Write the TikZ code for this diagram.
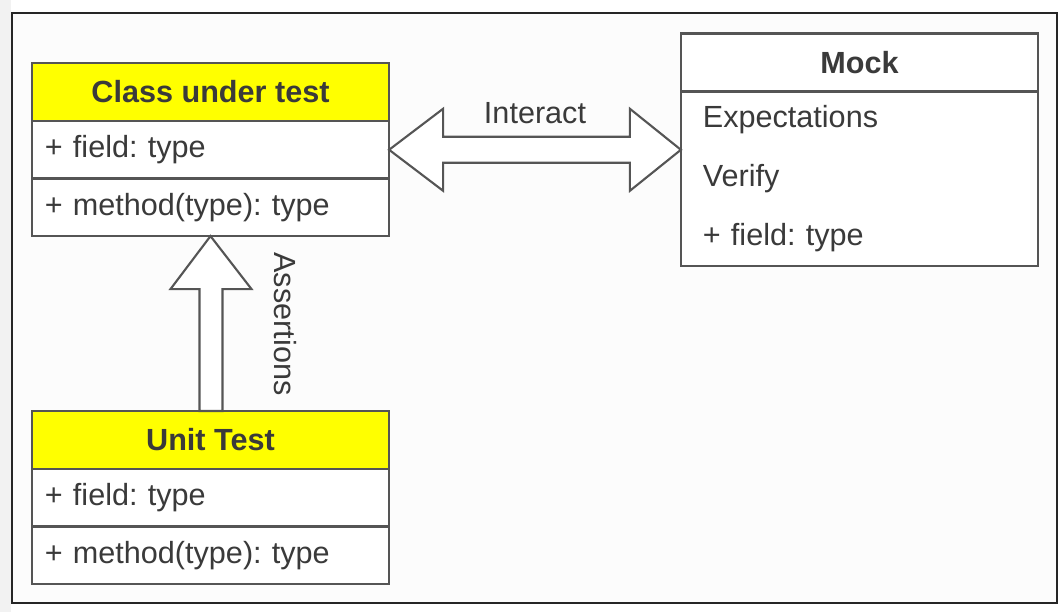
\documentclass[tikz,border=0pt]{standalone}
\usepackage{fontspec}
\setmainfont{Liberation Sans}
\usetikzlibrary{positioning,calc}
\definecolor{umlyellow}{HTML}{FFFF00}
\definecolor{linegray}{HTML}{555555}
\definecolor{textgray}{HTML}{3A3A3A}
\frenchspacing
\begin{document}
\begin{tikzpicture}%
	[
	x={(0.01cm, 0cm)},
	y={(0cm, -0.01cm)},
	frame/.style={draw=black!85, line width=0.5pt, fill=black!1},
	classhead/.style={draw=linegray, line width=0.6pt, fill=umlyellow, minimum width=3.57cm, minimum height=5.8mm, inner sep=0pt, outer sep=0pt, text=textgray, font=\fontsize{8.7}{10}\selectfont\bfseries},
	member/.style={draw=linegray, line width=0.6pt, fill=white, text width=3.31cm, inner xsep=1.3mm, inner ysep=0pt, outer sep=0pt, minimum height=5.75mm, align=left, text=textgray, font=\fontsize{8.7}{10}\selectfont},
	mockhead/.style={classhead, fill=white},
	mockbody/.style={member, text width=3.13cm, inner xsep=2.2mm, minimum height=17.4mm, font=\fontsize{8.7}{16.9}\selectfont},
	bigarrow/.style={draw=linegray, line width=0.6pt, fill=white, line join=miter},
	arrowtext/.style={text=textgray, inner sep=0pt, font=\fontsize{8.7}{10}\selectfont}]

\useasboundingbox (0,0) rectangle (1060,612);
\fill[black!5] (0,0) rectangle (11,612);
\draw[frame] (12,13) rectangle (1057,603);

\node[classhead] (cuthead) at (210.5,92) {Class under test};
\node[member, below=0pt of cuthead] (cutfield) {+ field: type};
\node[member, below=0pt of cutfield] (cutmethod) {+ method(type): type};

\node[classhead] (uthead) at (210.5,440) {Unit Test};
\node[member, below=0pt of uthead] (utfield) {+ field: type};
\node[member, below=0pt of utfield] (utmethod) {+ method(type): type};

\node[mockhead] (mockhead) at (859.5,62.5) {Mock};
\node[mockbody, below=0pt of mockhead] (mockbody) {Expectations\\Verify\\+ field: type};

\coordinate (lefttip) at (cutfield.east);
\coordinate (righttip) at (cutfield.east -| mockbody.west);
\coordinate (uptip) at (cutmethod.south);
\coordinate (upfoot) at (uthead.north);

\draw[bigarrow] (lefttip) -- ++(54,-41) -- ++(0,28) -- ($(righttip)+(-51,-13)$) -- ++(0,-28) -- (righttip)
	-- ++(-51,41) -- ++(0,-28) -- ($(lefttip)+(54,13)$) -- ++(0,28) -- cycle;
\draw[bigarrow] (uptip) -- ++(-40,53) -- ++(29,0) -- ($(upfoot)+(-11,0)$) -- ($(upfoot)+(12,0)$)
	-- ($(uptip)+(12,53)$) -- ++(29,0) -- cycle;

\node[arrowtext] (interact) at ($(lefttip)!0.5!(righttip)+(0,-37)$) {Interact};
\node[arrowtext, rotate=-90] (assertions) at (285,324) {Assertions};
\end{tikzpicture}
\end{document}
